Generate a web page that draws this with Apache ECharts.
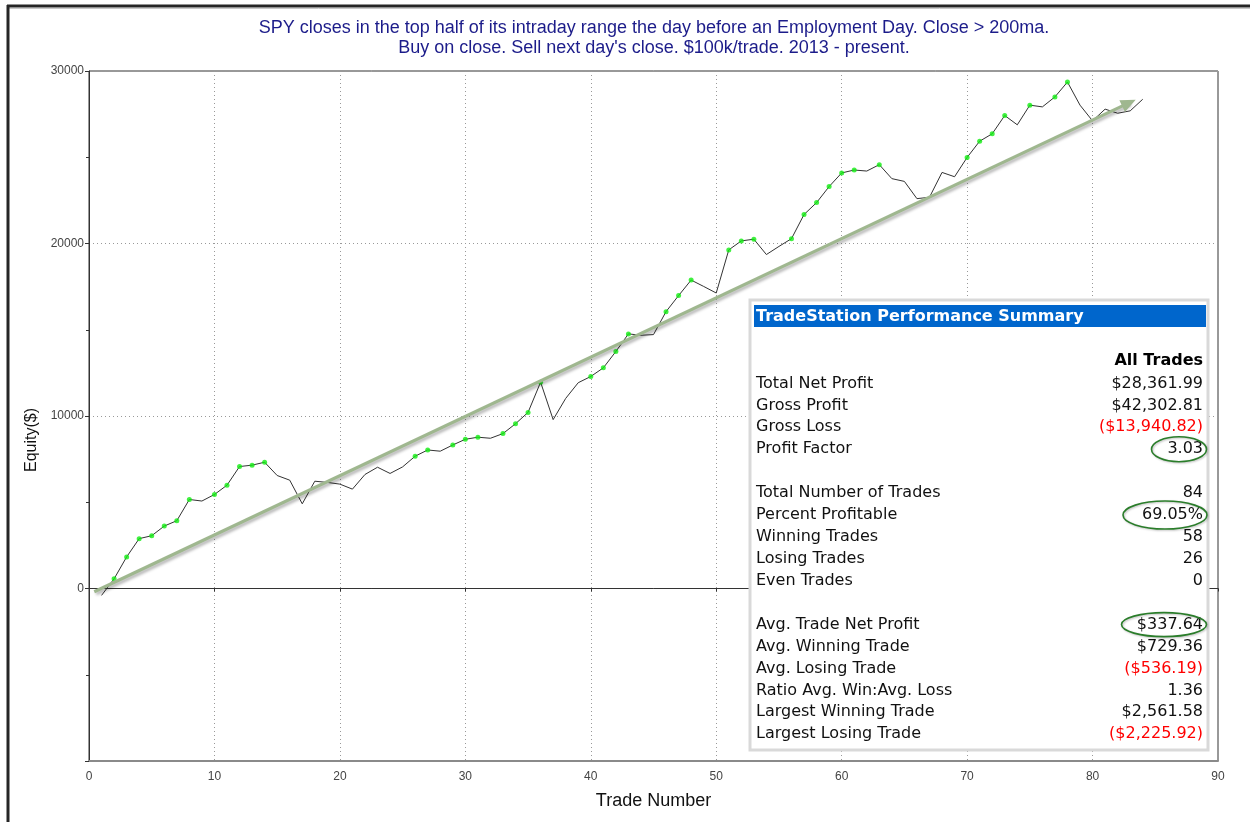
<!DOCTYPE html>
<html>
<head>
<meta charset="utf-8">
<script src="https://cdn.jsdelivr.net/npm/echarts@6/dist/echarts.min.js"></script>
<style>
html,body{margin:0;padding:0;background:#fff;}
#chart{width:1250px;height:822px;}
</style>
</head>
<body>
<div id="chart"></div>
<script>
// ---- Data ----
const titleLines = [
  "SPY closes in the top half of its intraday range the day before an Employment Day. Close > 200ma.",
  "Buy on close. Sell next day's close. $100k/trade. 2013 - present."
];
const xAxisTitle = "Trade Number";
const yAxisTitle = "Equity($)";
const equity = [
  -400, 560, 1830, 2890, 3060, 3620, 3930, 5160, 5070, 5450,
  5990, 7070, 7150, 7320, 6550, 6280, 4910, 6220, 6150, 6050,
  5760, 6610, 7030, 6670, 7050, 7670, 8030, 7960, 8320, 8650,
  8770, 8710, 8980, 9550, 10210, 11960, 9790, 11020, 11930, 12290,
  12790, 13740, 14760, 14680, 14720, 16050, 16980, 17880, 17510, 17130,
  19630, 20150, 20250, 19360, 19830, 20280, 21680, 22370, 23300, 24090,
  24260, 24200, 24570, 23760, 23600, 22600, 22680, 24120, 23870, 24990,
  25930, 26360, 27420, 26880, 28020, 27920, 28500, 29360, 28020, 27110,
  27790, 27550, 27690, 28362
];
const trendStart = [0.42, -190];
const trendEnd = [82.9, 28150];
const xTicks = [0, 90, 10];       // min, max, interval
const yTicks = [-10000, 30000, 10000];

const summaryTitle = "TradeStation Performance Summary";
const summaryColumnHeader = "All Trades";
const summaryLabels = [
  "Total Net Profit", "Gross Profit", "Gross Loss", "Profit Factor", "",
  "Total Number of Trades", "Percent Profitable", "Winning Trades", "Losing Trades", "Even Trades", "",
  "Avg. Trade Net Profit", "Avg. Winning Trade", "Avg. Losing Trade", "Ratio Avg. Win:Avg. Loss",
  "Largest Winning Trade", "Largest Losing Trade"
];
const summaryValues = [
  "$28,361.99", "$42,302.81", "($13,940.82)", "3.03", "",
  "84", "69.05%", "58", "26", "0", "",
  "$337.64", "$729.36", "($536.19)", "1.36",
  "$2,561.58", "($2,225.92)"
];
const circledRows = [3, 6, 11];

// ---- Derived series ----
const lineData = equity.map((v, i) => [i + 1, v]);
const highData = [];
let hi = 0;
equity.forEach((v, i) => { if (v > hi) { hi = v; highData.push([i + 1, v]); } });

const chart = echarts.init(document.getElementById('chart'), null, {renderer: 'canvas'});
const FONT = '"Liberation Sans", Arial, sans-serif';
const SFONT = '"DejaVu Sans", Verdana, sans-serif';

const gfx = [];
// frame
gfx.push({type: 'line', shape: {x1: 7, y1: 6, x2: 1250, y2: 6}, style: {stroke: '#262626', lineWidth: 3}, z: 100});
gfx.push({type: 'line', shape: {x1: 8, y1: 8.5, x2: 1250, y2: 8.5}, style: {stroke: '#c8c8c8', lineWidth: 1}, z: 100});
gfx.push({type: 'line', shape: {x1: 8, y1: 5, x2: 8, y2: 822}, style: {stroke: '#262626', lineWidth: 3}, z: 100});
// title
titleLines.forEach((t, i) => {
  gfx.push({type: 'text', x: 654, y: 28 + i * 20, z: 100,
    style: {text: t, fill: '#1c1c8a', font: '18px ' + FONT, textAlign: 'center', textVerticalAlign: 'middle'}});
});
// y axis title
gfx.push({type: 'text', x: 32, y: 440, rotation: Math.PI / 2, z: 100,
  style: {text: yAxisTitle, fill: '#111', font: '16px ' + FONT, textAlign: 'center', textVerticalAlign: 'middle'}});

// summary box
const bx = 750, by = 300, bw = 458, bh = 450;
gfx.push({type: 'rect', shape: {x: bx, y: by, width: bw, height: bh}, style: {fill: '#fff', stroke: '#d9d9d9', lineWidth: 3}, z: 50});
gfx.push({type: 'rect', shape: {x: 754, y: 305, width: 452, height: 22}, style: {fill: '#0066cc'}, z: 51});
gfx.push({type: 'text', x: 756, y: 317, z: 52,
  style: {text: summaryTitle, fill: '#fff', font: 'bold 16px ' + SFONT, textVerticalAlign: 'middle'}});
gfx.push({type: 'text', x: 1203, y: 361, z: 52,
  style: {text: summaryColumnHeader, fill: '#000', font: 'bold 16px ' + SFONT, textAlign: 'right', textVerticalAlign: 'middle'}});
const rowY0 = 383.5, rowStep = 21.92;
summaryLabels.forEach((lab, i) => {
  const y = rowY0 + i * rowStep;
  if (lab) gfx.push({type: 'text', x: 756, y: y, z: 52,
    style: {text: lab, fill: '#111', font: '16px ' + SFONT, textVerticalAlign: 'middle'}});
  const val = summaryValues[i];
  if (val) gfx.push({type: 'text', x: 1203, y: y, z: 52,
    style: {text: val, fill: val.startsWith('(') ? '#ff0000' : '#111', font: '16px ' + SFONT, textAlign: 'right', textVerticalAlign: 'middle'}});
});
const ellipseGeom = {3: [1179, 27.5, 12.5], 6: [1165, 42, 14], 11: [1164, 42.5, 12]};
circledRows.forEach(r => {
  const g = ellipseGeom[r];
  gfx.push({type: 'ellipse', z: 53,
    shape: {cx: g[0], cy: rowY0 + r * rowStep, rx: g[1], ry: g[2]},
    style: {fill: 'none', stroke: '#2a7d2a', lineWidth: 1.6, shadowBlur: 2, shadowColor: 'rgba(0,0,0,0.25)', shadowOffsetX: 1, shadowOffsetY: 1}});
});

const option = {
  animation: false,
  backgroundColor: '#fff',
  grid: {left: 89, right: 32, top: 71, bottom: 61, show: true, borderColor: '#333', borderWidth: 1},
  xAxis: [{
    type: 'value', min: xTicks[0], max: xTicks[1], interval: xTicks[2], position: 'bottom',
    name: xAxisTitle, nameLocation: 'middle', nameGap: 31,
    nameTextStyle: {fontFamily: FONT, fontSize: 18, color: '#111'},
    axisLine: {onZero: false, lineStyle: {color: '#8a8a8a', width: 2}},
    axisTick: {show: false},
    axisLabel: {fontFamily: FONT, fontSize: 12, color: '#444', margin: 10},
    splitLine: {show: true, lineStyle: {color: '#999', type: [1, 3], width: 1}}
  }, {
    type: 'value', min: xTicks[0], max: xTicks[1], interval: xTicks[2], position: 'top',
    axisLine: {onZero: true, lineStyle: {color: '#333', width: 1}},
    axisTick: {show: true, inside: true, length: 3, lineStyle: {color: '#333'}},
    axisLabel: {show: false},
    splitLine: {show: false}
  }],
  yAxis: {
    type: 'value', min: yTicks[0], max: yTicks[1], interval: yTicks[2],
    axisLine: {show: true, lineStyle: {color: '#333', width: 1}},
    axisTick: {show: true, length: 4, lineStyle: {color: '#333'}},
    minorTick: {show: true, splitNumber: 2, length: 3, lineStyle: {color: '#333'}},
    axisLabel: {fontFamily: FONT, fontSize: 12, color: '#444', margin: 5,
      formatter: v => (v < 0 ? '' : String(v))},
    splitLine: {show: true, lineStyle: {color: '#999', type: [1, 3], width: 1}}
  },
  series: [{
    type: 'line', data: [], silent: true, z: 2,
    markLine: {
      silent: true, symbol: ['none', 'triangle'], symbolSize: [13, 15],
      label: {show: false},
      lineStyle: {color: '#9fb78f', width: 3.2, type: 'solid', shadowBlur: 3, shadowColor: 'rgba(0,0,0,0.3)', shadowOffsetX: 2, shadowOffsetY: 2},
      emphasis: {disabled: true},
      data: [[{coord: trendStart}, {coord: trendEnd}]]
    }
  }, {
    type: 'line', data: lineData, showSymbol: false, z: 3,
    lineStyle: {color: '#333', width: 1}
  }, {
    type: 'scatter', data: highData, symbol: 'circle', symbolSize: 5, z: 4,
    itemStyle: {color: '#11ee11'}
  }],
  graphic: gfx
};
chart.setOption(option);
</script>
</body>
</html>
